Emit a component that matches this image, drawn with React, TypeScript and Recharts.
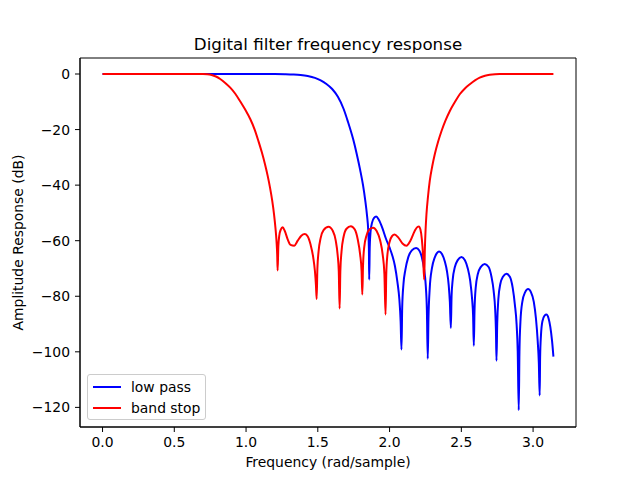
import { LineChart, Line, XAxis, YAxis, ReferenceArea, Legend } from "recharts";

// [frequency (rad/sample), amplitude (dB)]
const lowPass: [number, number][] = [
  [0, 0], [0.3, 0], [0.6, 0], [0.9, 0], [1.1, 0], [1.2, -0.02], [1.27, -0.07], [1.33, -0.17],
  [1.38, -0.35], [1.43, -0.72], [1.48, -1.4], [1.52, -2.3], [1.56, -3.6], [1.6, -5.4], [1.64, -8.2],
  [1.68, -12.6], [1.71, -17.2], [1.747, -23.6], [1.77, -28.5], [1.795, -34.5], [1.815, -40], [1.83, -45.3],
  [1.843, -51], [1.851, -56], [1.856, -63], [1.858, -74],
  [1.862, -62], [1.868, -56.5], [1.878, -53.5], [1.892, -51.8], [1.907, -51.3], [1.925, -52.5],
  [1.95, -55.5], [1.975, -59.3], [2.0, -62.5], [2.02, -65.5], [2.037, -69], [2.055, -75],
  [2.068, -81], [2.077, -89], [2.083, -99.2],
  [2.088, -84], [2.097, -75.5], [2.11, -70.5], [2.13, -66], [2.155, -63.5], [2.185, -62.6],
  [2.207, -63.5], [2.225, -66], [2.24, -70], [2.252, -76], [2.26, -85], [2.266, -102.5],
  [2.271, -88], [2.28, -77], [2.295, -70], [2.315, -66], [2.33, -64.5], [2.345, -63.9],
  [2.365, -64.8], [2.385, -67.5], [2.4, -71], [2.412, -76], [2.42, -82], [2.427, -91.4],
  [2.432, -80], [2.44, -74], [2.455, -69.5], [2.475, -67], [2.501, -65.9], [2.525, -67],
  [2.545, -70], [2.562, -74.5], [2.575, -81], [2.582, -87], [2.587, -97.8],
  [2.592, -85], [2.6, -77], [2.615, -72], [2.635, -69.5], [2.663, -68.4], [2.69, -69.5],
  [2.71, -73], [2.725, -78], [2.736, -85], [2.741, -92], [2.745, -103.2],
  [2.75, -90], [2.758, -81], [2.772, -75.5], [2.79, -73], [2.814, -71.9], [2.838, -73],
  [2.858, -77], [2.873, -83], [2.885, -90], [2.893, -100], [2.9, -121],
  [2.905, -100], [2.912, -89], [2.925, -82], [2.945, -78.5], [2.965, -77.4], [2.985, -78.5],
  [3.005, -82], [3.02, -88], [3.032, -96], [3.04, -104], [3.046, -115.7],
  [3.049, -102], [3.055, -94], [3.065, -89], [3.08, -87], [3.093, -86.6], [3.108, -88],
  [3.12, -91], [3.132, -96], [3.1416, -101.7],
];

const bandStop: [number, number][] = [
  [0, 0], [0.3, 0], [0.55, 0], [0.62, -0.01], [0.67, -0.02], [0.7, -0.03], [0.73, -0.1], [0.76, -0.35],
  [0.79, -0.9], [0.82, -1.8], [0.855, -3.2], [0.89, -4.9], [0.925, -7.1], [0.96, -9.9], [0.995, -12.9],
  [1.03, -16.3], [1.06, -20], [1.086, -24.1], [1.11, -28.2], [1.132, -32.5], [1.15, -36.5],
  [1.167, -40.9], [1.182, -45.5], [1.195, -50.5], [1.205, -55.5], [1.212, -60], [1.217, -65],
  [1.22, -70.7],
  [1.225, -62], [1.232, -58], [1.242, -56], [1.255, -55.2], [1.27, -56.5], [1.29, -59.5],
  [1.31, -61.5], [1.336, -61.8], [1.36, -60], [1.385, -58.2], [1.41, -57.6], [1.43, -58.5],
  [1.45, -61.5], [1.468, -66], [1.48, -71], [1.487, -76], [1.492, -81],
  [1.497, -70], [1.505, -64], [1.52, -59], [1.54, -56.2], [1.575, -55], [1.605, -56.5],
  [1.625, -60], [1.638, -65], [1.646, -71], [1.652, -84.4],
  [1.657, -71], [1.665, -64], [1.68, -58.5], [1.7, -55.7], [1.73, -54.8], [1.758, -56],
  [1.778, -59.5], [1.795, -65], [1.805, -71], [1.81, -79.4],
  [1.815, -69], [1.823, -62.5], [1.84, -58], [1.862, -55.8], [1.886, -55.3], [1.91, -56.5],
  [1.935, -60], [1.952, -65], [1.964, -72], [1.972, -86.6],
  [1.977, -72], [1.985, -65], [2.0, -60.5], [2.018, -58.3], [2.035, -57.8], [2.06, -58.8],
  [2.09, -61], [2.118, -61.8], [2.145, -60], [2.175, -56.5], [2.195, -55], [2.204, -54.9],
  [2.215, -56], [2.225, -59.5], [2.233, -65], [2.241, -74],
  [2.246, -63], [2.251, -56], [2.257, -50.5], [2.268, -44], [2.28, -38.5], [2.297, -33.3],
  [2.315, -28.9], [2.338, -24.4], [2.362, -20.5], [2.39, -16.7], [2.42, -13.3], [2.455, -10.1],
  [2.489, -7.3], [2.525, -5.2], [2.559, -3.7], [2.595, -2.3], [2.628, -1.3], [2.665, -0.65],
  [2.698, -0.3], [2.735, -0.08], [2.767, -0.01], [2.82, 0], [2.9, 0], [3.1416, 0],
];

const seriesOrder = ["low pass", "band stop"];
const xTicks = [0, 0.5, 1, 1.5, 2, 2.5, 3];
const yTicks = [0, -20, -40, -60, -80, -100, -120];

const X_DOMAIN: [number, number] = [-0.157, 3.299];
const Y_DOMAIN: [number, number] = [-127.06, 5.76];
const FONT = "DejaVu Sans, sans-serif";

const toRows = (pts: [number, number][]) => pts.map(([f, db]) => ({ f, db }));
const fmtY = (v: number) => String(v).replace("-", "\u2212");

function LegendBox({ payload }: any) {
  const items = [...(payload || [])].sort(
    (a: any, b: any) => seriesOrder.indexOf(a.value) - seriesOrder.indexOf(b.value)
  );
  return (
    <div
      style={{
        width: 117,
        height: 44,
        border: "1px solid #cccccc",
        borderRadius: 3,
        background: "rgba(255,255,255,0.8)",
        position: "relative",
        fontFamily: FONT,
        fontSize: 13.9,
        color: "#000",
      }}
    >
      {items.map((p: any, i: number) => (
        <div key={p.value} style={{ position: "absolute", left: 0, top: 2 + i * 21, height: 20, display: "flex", alignItems: "center" }}>
          <span style={{ display: "inline-block", marginLeft: 5, width: 28, height: 2, background: p.color }} />
          <span style={{ marginLeft: 10, lineHeight: "20px" }}>{p.value}</span>
        </div>
      ))}
    </div>
  );
}

export default function App() {
  return (
    <div style={{ position: "absolute", left: 0, top: 0, width: 640, height: 480, background: "#fff", fontFamily: FONT }}>
      <div
        style={{
          position: "absolute",
          left: 80,
          width: 496,
          top: 34,
          textAlign: "center",
          fontSize: 16.7,
          color: "#000",
        }}
      >
        Digital filter frequency response
      </div>
      <LineChart width={640} height={480} margin={{ top: 58, right: 64, bottom: 0, left: 0 }}>
        <XAxis
          type="number"
          dataKey="f"
          domain={X_DOMAIN}
          ticks={xTicks}
          allowDataOverflow
          tickFormatter={(v: number) => v.toFixed(1)}
          height={53}
          tickSize={5}
          tickMargin={5}
          stroke="#000"
          tick={{ fill: "#000", fontSize: 13.9, fontFamily: FONT }}
          label={{ value: "Frequency (rad/sample)", position: "insideBottom", offset: 13.5, fill: "#000", fontSize: 13.9, fontFamily: FONT }}
        />
        <YAxis
          type="number"
          domain={Y_DOMAIN}
          ticks={yTicks}
          allowDataOverflow
          tickFormatter={fmtY}
          width={80}
          tickSize={5}
          tickMargin={5}
          stroke="#000"
          tick={{ fill: "#000", fontSize: 13.9, fontFamily: FONT }}
          label={{ value: "Amplitude Response (dB)", angle: -90, position: "insideLeft", offset: 18, fill: "#000", fontSize: 13.9, fontFamily: FONT, style: { textAnchor: "middle" } }}
        />
        <ReferenceArea x1={X_DOMAIN[0]} x2={X_DOMAIN[1]} y1={Y_DOMAIN[0]} y2={Y_DOMAIN[1]} fill="none" stroke="#000" strokeWidth={1} />
        <Line data={toRows(lowPass)} dataKey="db" name="low pass" type="monotone" stroke="#0000ff" strokeWidth={2} dot={false} isAnimationActive={false} />
        <Line data={toRows(bandStop)} dataKey="db" name="band stop" type="monotone" stroke="#ff0000" strokeWidth={2} dot={false} isAnimationActive={false} />
        <Legend
          layout="vertical"
          align="center"
          verticalAlign="middle"
          content={<LegendBox />}
          wrapperStyle={{ left: 87, top: 374, width: 119, height: 46 }}
        />
      </LineChart>
    </div>
  );
}
